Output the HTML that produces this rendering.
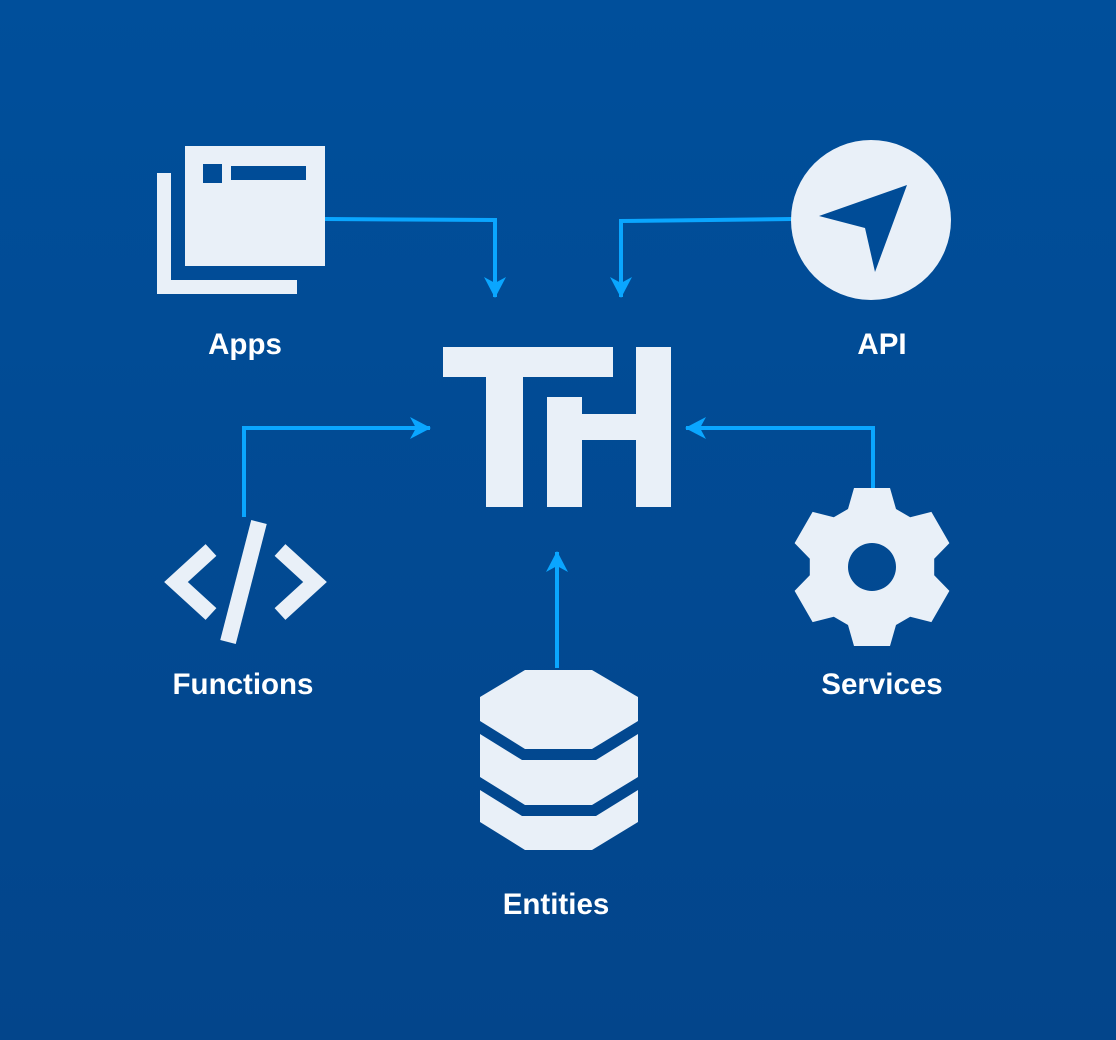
<!DOCTYPE html>
<html><head><meta charset="utf-8"><style>
html,body{margin:0;padding:0;width:1116px;height:1040px;overflow:hidden}
body{background:linear-gradient(180deg,#004f9b 0%,#03458b 100%);font-family:"Liberation Sans",sans-serif}
svg{position:absolute;left:0;top:0}
</style></head><body>
<svg width="1116" height="1040" viewBox="0 0 1116 1040">
<defs>
<marker id="a" markerWidth="24" markerHeight="24" refX="20" refY="11" orient="auto" markerUnits="userSpaceOnUse">
<path d="M0,0 L21,11 L0,22 L6,11 Z" fill="#0aa6ff"/>
</marker>
</defs>
<g fill="none" stroke="#0aa6ff" stroke-width="4">
<polyline points="325,219 495,220 495,297" marker-end="url(#a)"/>
<polyline points="792,219 621,221 621,297" marker-end="url(#a)"/>
<polyline points="244,517 244,428 430,428" marker-end="url(#a)"/>
<polyline points="873,490 873,428 686,428" marker-end="url(#a)"/>
<polyline points="557,668 557,552" marker-end="url(#a)"/>
</g>
<g fill="#e9f0f8">
<rect x="443" y="347" width="170" height="30"/>
<rect x="486" y="377" width="37" height="130"/>
<rect x="547" y="397" width="35" height="110"/>
<rect x="582" y="414" width="56" height="26"/>
<rect x="636" y="347" width="35" height="160"/>
<path d="M157,173 H171 V280 H297 V294 H157 Z"/>
<rect x="185" y="146" width="140" height="120"/>
<circle cx="871" cy="220" r="80"/>
<path d="M525,670 H592 L638,697 V721 L592,749 H525 L480,721 V697 Z"/>
<path d="M480,734 L522,760 H596 L638,734 V777 L592,805 H525 L480,777 Z"/>
<path d="M480,790 L522,816 H596 L638,790 V822 L592,850 H525 L480,822 Z"/>
<path id="gear" fill-rule="evenodd"/>
</g>
<g fill="#004c97">
<rect x="203" y="164" width="19" height="19"/>
<rect x="231" y="166" width="75" height="14"/>
<path d="M819,216 L907,185 L875,272 L865,228 Z"/>
</g>
<g fill="none" stroke="#e9f0f8" stroke-width="16">
<polyline points="211,550 176,582 211,614" stroke-linejoin="miter"/>
<polyline points="280,550 315,582 280,614" stroke-linejoin="miter"/>
<line x1="259" y1="522" x2="228" y2="642"/>
</g>
<g fill="#ffffff" font-weight="bold" font-size="29.5" text-anchor="middle">
<text x="245" y="354">Apps</text>
<text x="882" y="354">API</text>
<text x="243" y="694">Functions</text>
<text x="882" y="694">Services</text>
<text x="556" y="914">Entities</text>
</g>
</svg>
<script>
(function(){
var cx=872,cy=567,R=79,r=58,wo=18,wi=24,d="";
for(var i=0;i<6;i++){
 var t=-Math.PI/2+i*Math.PI/3, dx=Math.cos(t),dy=Math.sin(t),px=-dy,py=dx;
 var p=[[r,-wi],[R,-wo],[R,wo],[r,wi]];
 p.forEach(function(q,j){
  var x=cx+dx*q[0]+px*q[1], y=cy+dy*q[0]+py*q[1];
  d+=(i==0&&j==0?"M":"L")+x.toFixed(1)+","+y.toFixed(1)+" ";
 });
}
d+="Z M"+(cx+24)+","+cy+" A24,24 0 1,0 "+(cx-24)+","+cy+" A24,24 0 1,0 "+(cx+24)+","+cy+" Z";
document.getElementById("gear").setAttribute("d",d);
})();
</script>
</body></html>
